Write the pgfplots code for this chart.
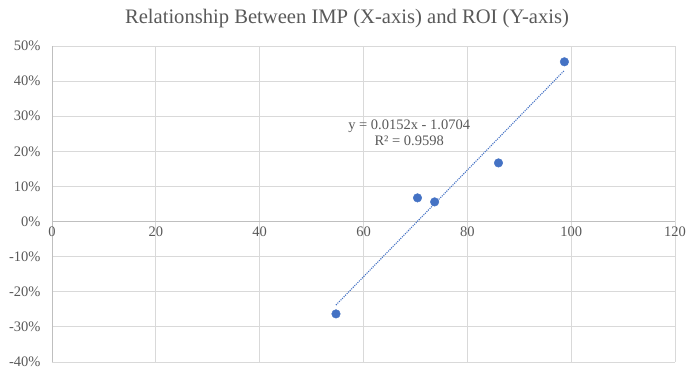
\documentclass[border=0pt]{standalone}
\usepackage{fontspec}
\setmainfont{Liberation Serif}
\usepackage{pgfplots}
\usepackage{pgfplotstable}
\pgfplotsset{compat=1.18}
\definecolor{pt}{HTML}{4472C4}
\definecolor{txt}{HTML}{595959}
\definecolor{grd}{HTML}{D9D9D9}
\definecolor{axl}{HTML}{BFBFBF}
\pgfplotstableread{
x y
54.7 -26.3
70.4 6.75
73.7 5.6
86.0 16.7
98.7 45.5
}\data
\begin{document}
\begin{tikzpicture}[x=1pt,y=1pt]
\path[use as bounding box] (0,0) rectangle (698,375);
\node[font=\fontsize{20.6}{24}\selectfont, text=txt] at (347,356) {Relationship Between IMP (X-axis) and ROI (Y-axis)};
\begin{axis}[
 at={(52pt,13pt)}, anchor=south west,
 scale only axis, width=623pt, height=316pt,
 xmin=0,xmax=120,ymin=-40,ymax=50,
 xtick={0,20,...,120}, ytick={-40,-30,...,50},
 axis x line=middle, axis y line=left,
 hide obscured x ticks=false, hide obscured y ticks=false,
 axis line style={-, color=axl, line width=0.8pt},
 major tick length=0pt,
 grid=major, grid style={color=grd, line width=0.8pt},
 yticklabel={\pgfmathprintnumber{\tick}\%},
 ticklabel style={font=\fontsize{14.5}{16}\selectfont, text=txt},
 /pgf/number format/assume math mode=true,
 yticklabel style={xshift=-8pt},
 xticklabel style={yshift=-2pt},
 clip=false,
]
\addplot[only marks, mark=*, mark size=4.3pt, color=pt] table[x=x,y=y] {\data};
\addplot[pt, line width=1.1pt, dash pattern=on 1.1pt off 1.1pt] table[x=x, y={create col/linear regression={y=y}}] {\data};
\node[font=\fontsize{14.5}{16}\selectfont, text=txt, align=center] at (axis cs:68.8,25.4) {y = 0.0152x - 1.0704\\R² = 0.9598};
\end{axis}
\end{tikzpicture}
\end{document}
